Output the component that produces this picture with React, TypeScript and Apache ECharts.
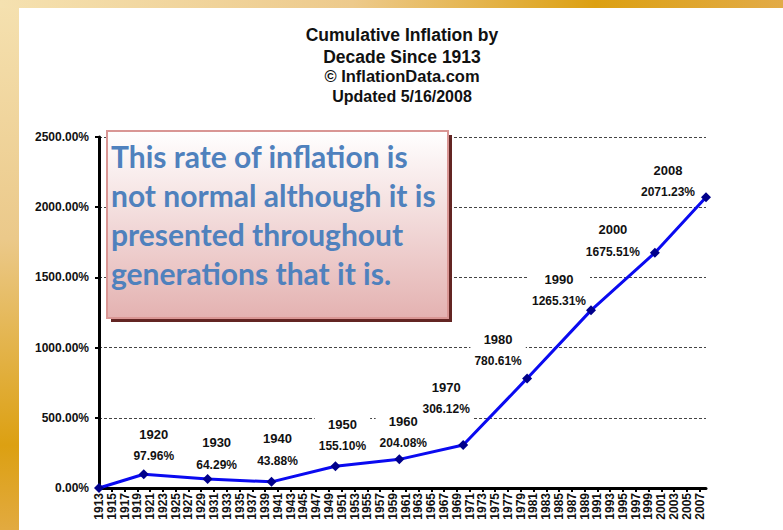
import React, { useEffect, useRef } from "react";
import * as echarts from "echarts";

const years: string[] = [
  "1913","1914","1915","1916","1917","1918","1919","1920","1921","1922",
  "1923","1924","1925","1926","1927","1928","1929","1930","1931","1932",
  "1933","1934","1935","1936","1937","1938","1939","1940","1941","1942",
  "1943","1944","1945","1946","1947","1948","1949","1950","1951","1952",
  "1953","1954","1955","1956","1957","1958","1959","1960","1961","1962",
  "1963","1964","1965","1966","1967","1968","1969","1970","1971","1972",
  "1973","1974","1975","1976","1977","1978","1979","1980","1981","1982",
  "1983","1984","1985","1986","1987","1988","1989","1990","1991","1992",
  "1993","1994","1995","1996","1997","1998","1999","2000","2001","2002",
  "2003","2004","2005","2006","2007","2008",
];

const pointYears: string[] = ["1913","1920","1930","1940","1950","1960","1970","1980","1990","2000","2008"];
const cumulativeInflation: number[] = [0, 97.96, 64.29, 43.88, 155.10, 204.08, 306.12, 780.61, 1265.31, 1675.51, 2071.23];

const yTicks = { min: 0, max: 2500, interval: 500 };

const titleLines: string[] = [
  "Cumulative Inflation by",
  "Decade Since 1913",
  "© InflationData.com",
  "Updated 5/16/2008",
];
const titleLineY: number[] = [35, 57, 76, 96];
const titleLineSize: number[] = [17.5, 17.5, 16.5, 16];

const noteText = "This rate of inflation is\nnot normal although it is\npresented throughout\ngenerations that it is.";

// label placement (style, not data)
const labelOffsets: [number, number][] = [
  [0, 0], [10, -29], [9, -25], [6, -32], [7, -31], [4, -27],
  [-17, -47], [-29, -28], [-32, -20], [-42, -12], [-38, -16],
];

const FONT = "Liberation Sans, Arial, sans-serif";

export default function App() {
  const ref = useRef<HTMLDivElement>(null);

  useEffect(() => {
    document.body.style.margin = "0";
    if (!ref.current) return;
    const chart = echarts.init(ref.current, undefined, { renderer: "svg" });

    const lineData = pointYears.map((y, i) => [y, cumulativeInflation[i]]);
    const labelData = pointYears.map((y, i) => ({
      value: [y, cumulativeInflation[i]],
      label: {
        show: i > 0,
        offset: labelOffsets[i],
      },
    }));

    const titleGraphics = titleLines.map((t, i) => ({
      type: "text",
      x: 402,
      y: titleLineY[i],
      z: 10,
      style: {
        text: t,
        fontSize: titleLineSize[i],
        fontWeight: "bold",
        fontFamily: FONT,
        fill: "#111",
        textAlign: "center",
        textVerticalAlign: "middle",
      },
    }));

    chart.setOption({
      animation: false,
      backgroundColor: "#ffffff",
      grid: { left: 99, top: 137, right: 77, bottom: 42, containLabel: false },
      xAxis: {
        type: "category",
        data: years,
        boundaryGap: false,
        axisLine: { show: true, lineStyle: { color: "#000", width: 3 } },
        axisTick: { show: true, interval: 1, length: 4, lineStyle: { color: "#000", width: 2 } },
        axisLabel: {
          interval: 1,
          rotate: 90,
          fontSize: 12,
          fontWeight: "bold",
          fontFamily: FONT,
          color: "#111",
          margin: 5,
        },
        splitLine: { show: false },
      },
      yAxis: {
        type: "value",
        min: yTicks.min,
        max: yTicks.max,
        interval: yTicks.interval,
        axisLine: { show: true, lineStyle: { color: "#000", width: 3 } },
        axisTick: { show: true, length: 4, lineStyle: { color: "#000", width: 2 } },
        axisLabel: {
          formatter: (v: number) => v.toFixed(2) + "%",
          fontSize: 12,
          fontWeight: "bold",
          fontFamily: FONT,
          color: "#111",
          margin: 10,
        },
        splitLine: {
          show: true,
          lineStyle: { color: "#444", width: 1, type: [3, 2] },
        },
      },
      series: [
        {
          name: "labels",
          type: "line",
          data: labelData,
          showSymbol: true,
          showAllSymbol: true,
          symbol: "circle",
          symbolSize: 1,
          itemStyle: { color: "rgba(0,0,0,0)" },
          lineStyle: { width: 0, color: "rgba(0,0,0,0)" },
          silent: true,
          z: 2,
          label: {
            show: true,
            position: "inside",
            backgroundColor: "#ffffff",
            padding: [1, 4],
            formatter: (p: any) =>
              "{y|" + p.value[0] + "}\n{p|" + Number(p.value[1]).toFixed(2) + "%}",
            rich: {
              y: {
                fontSize: 13,
                fontWeight: "bold",
                fontFamily: FONT,
                color: "#111",
                lineHeight: 22,
                align: "center",
              },
              p: {
                fontSize: 12,
                fontWeight: "bold",
                fontFamily: FONT,
                color: "#111",
                lineHeight: 22,
                align: "center",
              },
            },
          },
        },
        {
          name: "Cumulative Inflation",
          type: "line",
          data: lineData,
          showSymbol: true,
          showAllSymbol: true,
          symbol: "diamond",
          symbolSize: 10,
          itemStyle: { color: "#00008b" },
          lineStyle: { color: "#0a0af0", width: 3 },
          label: { show: false },
          z: 3,
        },
      ],
      graphic: [
        {
          type: "rect",
          z: 0,
          silent: true,
          shape: { x: 0, y: 0, width: 19, height: 530 },
          style: {
            fill: new echarts.graphic.LinearGradient(0, 0, 0, 1, [
              { offset: 0, color: "#f5e1b0" },
              { offset: 0.45, color: "#ebc98a" },
              { offset: 0.84, color: "#dca012" },
              { offset: 1, color: "#e2aa40" },
            ]),
          },
        },
        {
          type: "rect",
          z: 0,
          silent: true,
          shape: { x: 0, y: 0, width: 783, height: 8 },
          style: {
            fill: new echarts.graphic.LinearGradient(0, 0, 1, 0, [
              { offset: 0, color: "#f5e1b0" },
              { offset: 0.45, color: "#edca8c" },
              { offset: 0.76, color: "#dca012" },
              { offset: 1, color: "#e2ab48" },
            ]),
          },
        },
        ...titleGraphics,
        {
          type: "rect",
          z: 20,
          silent: true,
          shape: { x: 111, y: 135, width: 341, height: 187 },
          style: { fill: "#632523" },
        },
        {
          type: "rect",
          z: 21,
          silent: true,
          shape: { x: 107, y: 131, width: 341, height: 187 },
          style: {
            fill: new echarts.graphic.LinearGradient(0, 0, 0, 1, [
              { offset: 0, color: "#ffffff" },
              { offset: 1, color: "#e4b2b1" },
            ]),
            stroke: "#d99694",
            lineWidth: 2,
          },
        },
        {
          type: "text",
          z: 22,
          x: 111,
          y: 136,
          style: {
            text: noteText,
            fontSize: 30,
            fontWeight: "bold",
            fontFamily: "Lato, 'Open Sans', sans-serif",
            fill: "#4f81bd",
            lineHeight: 39,
          },
        },
      ],
    });

    return () => chart.dispose();
  }, []);

  return <div ref={ref} style={{ width: 783, height: 530 }} />;
}
